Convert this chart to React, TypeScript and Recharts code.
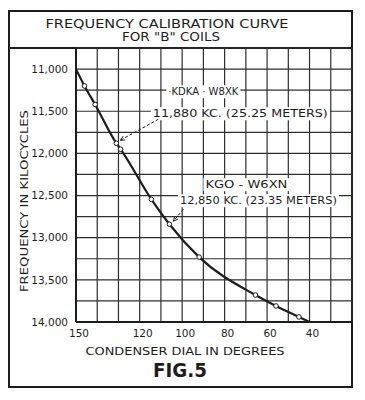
import React from 'react';
import { ComposedChart, Line, XAxis, YAxis, CartesianGrid, ReferenceDot } from 'recharts';

// condenser dial reading (degrees) and frequency (kc)
const dialDegrees = [150, 146, 141, 131, 129, 114.5, 106, 92, 65.5, 55.8, 45, 40];
const frequencyKc = [11000, 11200, 11420, 11880, 11950, 12545, 12840, 13230, 13680, 13810, 13940, 14000];

const xTicks = [20, 30, 40, 50, 60, 70, 80, 90, 100, 110, 120, 130, 140, 150];
const xTickLabels = [150, 120, 100, 80, 60, 40];
const yTicks = [10750, 11000, 11250, 11500, 11750, 12000, 12250, 12500, 12750, 13000, 13250, 13500, 13750, 14000];
const yTickLabels = [11000, 11500, 12000, 12500, 13000, 13500, 14000];

const stations = [
    { dial: 131, kc: 11880, call: '·KDKA · W8XK', detail: '11,880 KC. (25.25 METERS)' },
    { dial: 106, kc: 12840, call: 'KGO - W6XN', detail: '12,850 KC. (23.35 METERS)' },
];

const data = dialDegrees.map((d, i) => ({ dial: d, kc: frequencyKc[i] }));

const INK = '#1d1d1d';
const FONT = '"DejaVu Sans", sans-serif';

// label layout per station, offsets from the marked point
const noteLayout = [
    { l1: [87, -48, 70], l2: [124, -26, 175], arrow: [42, -24, 4, -3] },
    { l1: [77, -36, 82], l2: [89, -20, 157], arrow: [14, -15, 4, -3] },
];

const Note = (props: any) => {
    const { cx, cy, idx } = props;
    const st = stations[idx];
    const lay = noteLayout[idx];
    const [ax1, ay1, ax2, ay2] = lay.arrow;
    const x1 = cx + ax1, y1 = cy + ay1, x2 = cx + ax2, y2 = cy + ay2;
    const ang = Math.atan2(y2 - y1, x2 - x1);
    const h = 5;
    const p1 = `${x2 - h * Math.cos(ang - 0.45)},${y2 - h * Math.sin(ang - 0.45)}`;
    const p2 = `${x2 - h * Math.cos(ang + 0.45)},${y2 - h * Math.sin(ang + 0.45)}`;
    const lines = [
        { t: st.call, l: lay.l1 },
        { t: st.detail, l: lay.l2 },
    ];
    return (
        <g>
            {lines.map((ln, i) => (
                <g key={i}>
                    <rect x={cx + ln.l[0] - ln.l[2] / 2 - 2} y={cy + ln.l[1] - 10} width={ln.l[2] + 4} height={13} fill="#fff" />
                    <text x={cx + ln.l[0]} y={cy + ln.l[1]} textAnchor="middle" fontSize={10.5} fontFamily={FONT} fill={INK}
                        textLength={ln.l[2]} lengthAdjust="spacingAndGlyphs">{ln.t}</text>
                </g>
            ))}
            <line x1={x1} y1={y1} x2={x2} y2={y2} stroke={INK} strokeWidth={1} strokeDasharray="3 2" />
            <polyline points={`${p1} ${x2},${y2} ${p2}`} fill="none" stroke={INK} strokeWidth={1} />
        </g>
    );
};

const renderDot = (props: any) => {
    const { cx, cy, index } = props;
    if (index === 0 || index === data.length - 1) return <g key={index} />;
    return <circle key={index} cx={cx} cy={cy} r={2.3} fill="#fff" stroke={INK} strokeWidth={1} />;
};

export default function App() {
    return (
        <div style={{ position: 'absolute', left: 0, top: 0, width: 365, height: 400, background: '#fff' }}>
            <svg width={365} height={400} style={{ position: 'absolute', left: 0, top: 0 }}>
                <rect x={9} y={11} width={343} height={376} fill="none" stroke={INK} strokeWidth={2} />
                <line x1={9} y1={48} x2={352} y2={48} stroke={INK} strokeWidth={2} />
                <text x={167} y={28} textAnchor="middle" fontSize={11.5} fontFamily={FONT} fill={INK}
                    textLength={243} lengthAdjust="spacingAndGlyphs">FREQUENCY  CALIBRATION  CURVE</text>
                <text x={171} y={41} textAnchor="middle" fontSize={11.5} fontFamily={FONT} fill={INK}
                    textLength={98} lengthAdjust="spacingAndGlyphs">FOR "B" COILS</text>
                <text x={28} y={201} textAnchor="middle" fontSize={11} fontFamily={FONT} fill={INK}
                    transform="rotate(-90 28 201)" textLength={182} lengthAdjust="spacingAndGlyphs">FREQUENCY  IN  KILOCYCLES</text>
                <text x={185} y={355} textAnchor="middle" fontSize={11} fontFamily={FONT} fill={INK}
                    textLength={199} lengthAdjust="spacingAndGlyphs">CONDENSER  DIAL  IN  DEGREES</text>
                <text x={180} y={377} textAnchor="middle" fontSize={19} fontWeight="bold" fontFamily={FONT} fill={INK}
                    textLength={54} lengthAdjust="spacingAndGlyphs">FIG.5</text>
            </svg>
            <div style={{ position: 'absolute', left: 0, top: 0 }}>
                <ComposedChart width={365} height={400} data={data} margin={{ top: 48, right: 13, bottom: 48, left: 0 }}>
                    <CartesianGrid stroke="#2e2e2e" strokeWidth={1.2} />
                    <XAxis dataKey="dial" type="number" domain={[20, 150]} reversed ticks={xTicks} interval={0}
                        height={30} tickLine={false} axisLine={{ stroke: INK, strokeWidth: 2 }}
                        tickFormatter={(v: number) => (xTickLabels.includes(v) ? String(v) : '')}
                        tick={{ fill: INK, fontSize: 10.5, fontFamily: FONT, dx: 3 }} />
                    <YAxis dataKey="kc" type="number" domain={[10750, 14000]} reversed ticks={yTicks} interval={0}
                        width={76} tickLine={false} axisLine={{ stroke: INK, strokeWidth: 2 }}
                        tickFormatter={(v: number) => (yTickLabels.includes(v) ? v.toLocaleString('en-US') : '')}
                        tick={{ fill: INK, fontSize: 10.5, fontFamily: FONT }} />
                    <Line type="monotone" dataKey="kc" stroke={INK} strokeWidth={2.2} dot={renderDot}
                        activeDot={false} isAnimationActive={false} />
                    {stations.map((s, i) => (
                        <ReferenceDot key={i} x={s.dial} y={s.kc} r={0}
                            shape={(p: any) => <Note {...p} idx={i} />} />
                    ))}
                </ComposedChart>
            </div>
        </div>
    );
}
